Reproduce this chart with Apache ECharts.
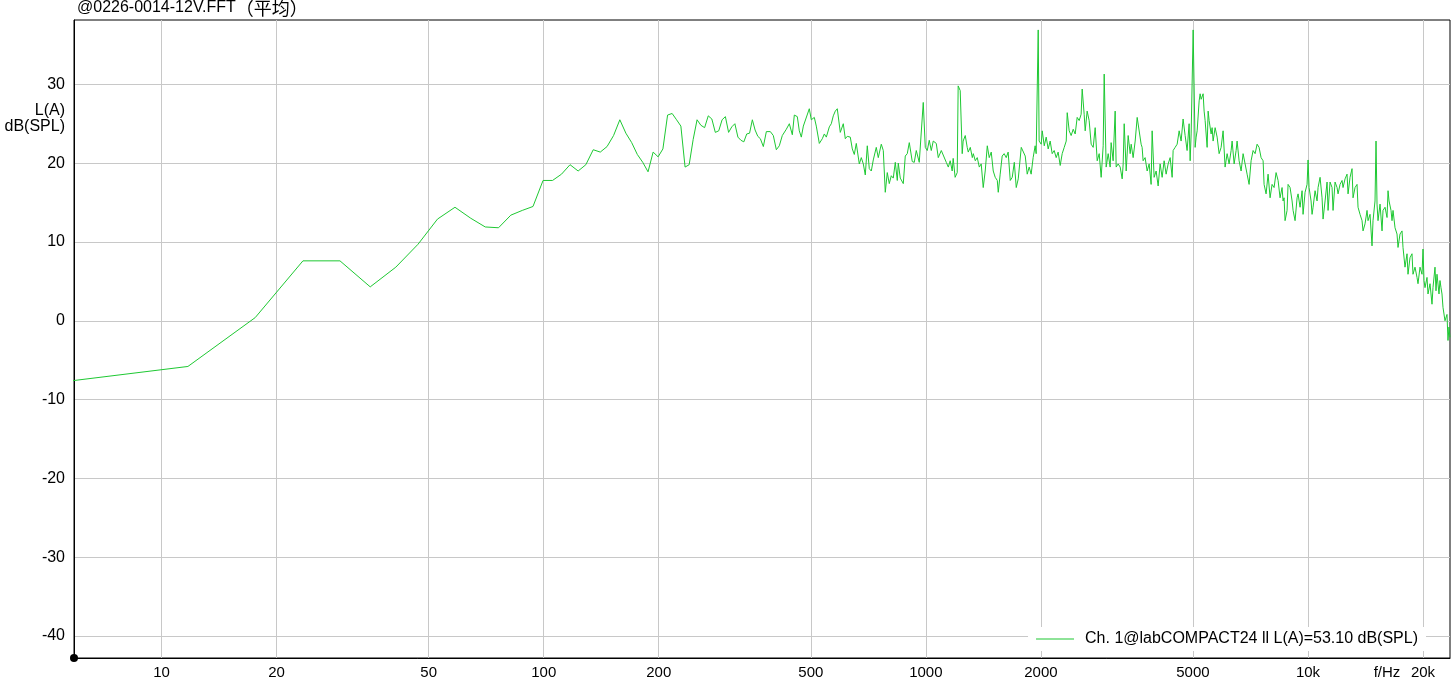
<!DOCTYPE html>
<html><head><meta charset="utf-8">
<script src="https://cdn.jsdelivr.net/npm/echarts@6/dist/echarts.min.js"></script>
<style>html,body{margin:0;padding:0;background:#fff}#c{width:1452px;height:692px}</style>
</head><body><div id="c"></div>
<script>
// ---- data (frequency in Hz, level in dB(SPL)) ----
const lowFreq = [5.86,11.72,17.58,23.44,29.30,35.16,41.02,46.88,52.73,58.59,64.45,70.31,76.17,82.03,87.89,93.75,99.61,105.47,111.33,117.19,123.05,128.91,134.77,140.63,146.48,152.34,158.20,164.06,169.92,175.78,181.64,187.50,193.36,199.22,205.08,210.94,216.80,222.66,228.52,234.38,240.23,246.09,251.95,257.81,263.67,269.53,275.39,281.25,287.11,292.97,298.83,304.69,310.55,316.41,322.27,328.13,333.98,339.84,345.70,351.56,357.42,363.28];
const lowLevel = [-7.6,-5.8,0.4,7.6,7.6,4.3,6.8,9.7,12.9,14.4,13.0,11.9,11.8,13.4,14.0,14.5,17.8,17.8,18.6,19.8,19.0,19.8,21.7,21.4,22.1,23.5,25.5,23.8,22.6,21.1,20.1,18.9,21.4,20.8,21.8,26.1,26.3,25.5,24.7,19.5,19.8,23.0,25.5,24.8,24.5,26.0,25.6,23.9,24.1,25.5,25.9,23.9,24.6,25.0,23.3,22.9,22.7,23.7,23.8,25.5,24.2,23.4];

const midFreq = [368.9,375.6,382.5,391.8,398.9,406.2,413.6,421.1,431.4,439.3,447.3,452.7,460.9,466.5,472.2,478.0,483.7,495.5,501.5,510.7,516.8,526.3,535.9,542.4,549.0,559.0,565.7,572.5,579.5,586.5,597.2,608.1,615.5,622.9,634.3,642.0,649.8,657.6,669.6,677.8,686.0,694.3,702.7,711.2,719.8,728.5,741.8,750.8,764.5,773.8,783.1,792.6,802.2,812.0,821.8,831.8,841.9,846.9,857.2,872.8,883.4,894.1,905.0,921.4,932.6,943.9,961.1,972.7,984.5,996.5,1008.5,1020.8,1033.2,1045.7,1064.8,1077.7,1097.6,1110.9,1131.1,1144.9,1158,1172,1179,1193,1208,1215,1230,1245,1252,1268,1283,1291,1307,1323,1331,1347,1363,1380,1396,1413,1430,1448,1465,1483,1501,1519,1538,1547,1565,1584,1603,1623,1642,1663,1683,1704,1724,1745,1777,1798,1820,1842,1864,1886,1909,1932,1944,1968,1979,2004,2016,2041,2065,2090,2115,2141,2167,2193,2219,2247,2274,2302,2330,2344,2372,2400,2430,2459,2489,2519,2549,2565,2596,2612,2643,2675,2708,2741,2774,2808,2842,2876,2911,2929,2964,3000];
const midLevel = [23.1,22.1,24.0,24.0,23.5,21.7,22.2,23.5,24.3,25.0,23.6,26.1,25.9,24.1,23.3,24.7,24.6,26.9,25.5,25.8,24.7,22.5,23.1,23.7,23.3,24.6,25.0,26.0,26.6,26.9,23.9,25.0,23.1,23.4,23.3,21.8,21.1,22.5,19.9,20.7,19.9,18.5,22.2,19.3,19.0,20.4,22.0,20.7,22.4,21.6,16.3,18.8,17.4,18.4,18.1,20.1,17.8,20.0,18.1,17.4,20.9,21.2,22.6,20.2,20.1,21.6,20.1,20.1,27.7,22.0,21.6,22.9,21.6,22.8,22.5,20.7,21.6,21.4,20.1,19.5,20.3,19.0,20.6,18.2,18.8,29.8,29.2,21.2,22.8,23.5,22.0,21.4,22.0,20.7,21.2,20.3,20.7,19.5,19.9,16.9,19.0,22.2,20.7,21.4,19.0,18.2,17.8,16.3,18.6,20.9,21.2,20.7,21.4,17.8,18.2,20.1,16.9,18.0,22.0,22.2,20.9,18.6,19.5,18.6,20.7,22.2,21.2,36.9,22.8,22.4,24.1,22.2,23.3,21.8,22.8,21.2,21.6,20.7,21.4,19.7,21.2,22.0,22.8,26.4,24.1,23.5,24.3,23.7,25.8,25.4,26.2,29.4,26.2,24.1,26.6,25.4,22.4,22.0,24.5,20.3,21.2,18.2,22.2,31.3,19.5,21.2];

const highFreq = [3036,3054,3091,3129,3148,3186,3225,3264,3284,3304,3344,3384,3425,3446,3487,3530,3573,3616,3659,3681,3703,3748,3794,3840,3886,3910,3957,4005,4054,4103,4153,4203,4254,4306,4358,4411,4437,4491,4546,4601,4656,4712,4770,4827,4886,4916,4946,5006,5066,5097,5128,5190,5221,5253,5316,5348,5381,5446,5479,5512,5579,5612,5646,5715,5784,5854,5925,5996,6069,6143,6217,6293,6331,6408,6485,6524,6603,6683,6764,6846,6929,7013,7098,7184,7271,7359,7448,7538,7630,7676,7769,7863,7958,8054,8152,8251,8351,8452,8554,8606,8658,8710,8816,8869,8977,9086,9141,9251,9364,9420,9534,9650,9708,9826,9945,10005,10065,10187,10249,10311,10436,10562,10626,10755,10885,10951,11084,11218,11286,11422,11560,11630,11771,11914,11986,12131,12278,12352,12502,12653,12730,12884,13040,13119,13278,13439,13520,13684,13850,13934,14102,14273,14359,14533,14709,14798,14977,15068,15159,15250,15436,15623,15717,15908,16101,16198,16297,16493,16593,16693,16895,17100,17203,17411,17622,17728,17943,18161,18270,18492,18716,18829,19057,19288,19405,19640,19878,19998,20119,20240,20486,20609,20859,21112,21239,21497,21627,21757,22021,22153,22287,22422,22557,22830,23107,23247,23387,23528];
const highLevel = [19.5,22.6,20.3,26.6,19.5,19.9,19.5,18.0,19.9,25.0,19.0,23.5,21.2,22.4,20.7,22.8,25.8,25.8,22.4,22.0,20.3,20.7,19.0,19.9,17.3,24.1,18.2,19.0,17.1,19.9,18.2,20.3,18.6,19.9,20.7,18.2,21.6,22.0,22.4,24.1,22.8,25.6,23.5,21.6,25.0,20.3,23.7,36.9,22.0,23.3,24.1,27.9,28.8,28.1,28.8,26.6,25.4,22.0,26.6,25.4,23.7,24.5,22.8,24.5,23.3,21.2,22.0,24.1,19.5,21.2,19.9,21.6,22.8,19.9,21.6,22.8,20.3,19.0,21.2,19.9,18.6,17.3,20.3,21.6,21.2,22.4,22.0,20.7,20.3,17.3,16.1,18.6,15.6,17.3,16.9,18.8,17.8,15.6,16.9,15.2,15.6,12.7,14.0,17.3,16.9,15.2,14.0,12.7,15.6,16.1,14.4,16.5,13.5,16.3,17.3,20.4,16.9,15.2,13.5,14.4,16.5,15.2,16.9,18.2,15.6,12.9,15.2,17.6,14.0,17.6,16.9,14.0,17.6,16.9,16.1,17.3,17.8,16.9,18.0,18.6,16.1,18.2,19.3,15.6,16.9,17.3,14.4,13.5,12.7,11.4,12.3,14.0,12.7,13.5,9.5,12.7,15.2,22.8,14.8,12.7,14.8,11.4,14.0,14.4,13.1,16.5,15.2,14.0,12.7,14.0,11.8,11.0,9.3,11.0,11.4,9.3,6.8,8.5,5.9,8.0,8.5,5.9,6.8,5.5,4.7,6.8,5.9,9.1,5.1,4.2,5.5,3.4,4.7,2.1,4.2,6.8,3.8,5.9,3.4,5.1,4.2,3.4,1.7,0.0,0.8,-2.5,-0.8,-2.1];

const xTicks = [10,20,50,100,200,500,1000,2000,5000,10000,20000];
const xUnitAt = 16100;
const yTicks = [-40,-30,-20,-10,0,10,20,30];
const seriesName = 'Ch. 1@labCOMPACT24 ll L(A)=53.10 dB(SPL)';
const titleMain = '@0226-0014-12V.FFT';
const titleCJK = '（平均）';

const freqs = lowFreq.concat(midFreq, highFreq);
const levels = lowLevel.concat(midLevel, highLevel);
const seriesData = freqs.map((f, i) => [f, levels[i]]);

const FONT = '"Liberation Sans", Arial, "Noto Sans CJK SC", sans-serif';
const CJKFONT = '"Noto Sans CJK SC", "Liberation Sans", sans-serif';
const chart = echarts.init(document.getElementById('c'), null, {renderer: 'canvas'});
chart.setOption({
  animation: false,
  backgroundColor: '#fff',
  textStyle: {fontFamily: FONT},
  grid: {left: 74, right: 2, top: 20, bottom: 34, show: true, borderColor: '#000', borderWidth: 1},
  graphic: [
    {type: 'text', left: 77, top: -1, style: {
      text: '{a|' + titleMain + '}{b|' + titleCJK + '}', fill: '#000',
      rich: {a: {fontSize: 16, fontFamily: FONT, fill: '#000'}, b: {fontSize: 18, fontFamily: CJKFONT, fill: '#000'}}
    }},
    {type: 'text', right: 1387, top: 103, style: {text: 'L(A)', fontSize: 16, fontFamily: FONT, fill: '#000'}},
    {type: 'text', right: 1387, top: 119, style: {text: 'dB(SPL)', fontSize: 16, fontFamily: FONT, fill: '#000'}}
  ],
  legend: {
    right: 26, top: 627, backgroundColor: '#fff', padding: [4, 8, 4, 8],
    itemWidth: 38, itemHeight: 10,
    textStyle: {fontSize: 16, color: '#000', fontFamily: FONT, padding: [0, 0, 0, 6]},
    data: [{name: seriesName, icon: 'path://M0,5L38,5L38,6L0,6Z'}]
  },
  xAxis: {
    type: 'log', logBase: 10, min: 5.9, max: 23530,
    axisLine: {show: true, onZero: false, lineStyle: {color: '#000', width: 1}, symbol: ['circle', 'none'], symbolSize: [8, 8]},
    axisTick: {show: false, customValues: xTicks},
    axisLabel: {
      customValues: xTicks.concat([xUnitAt]), color: '#000', fontSize: 15, fontFamily: FONT, margin: 7,
      formatter: v => (Math.abs(v - xUnitAt) < 1 ? 'f/Hz' : (v >= 10000 ? (v / 1000) + 'k' : String(v)))
    },
    splitLine: {show: true, lineStyle: {color: '#c8c8c8', width: 1}},
    minorTick: {show: false}, minorSplitLine: {show: false}
  },
  yAxis: {
    type: 'value', min: -42.79, max: 38.16,
    axisLine: {show: true, onZero: false, lineStyle: {color: '#000', width: 1}},
    axisTick: {show: false, customValues: yTicks},
    axisLabel: {customValues: yTicks, color: '#000', fontSize: 16, fontFamily: FONT, margin: 9},
    splitLine: {show: true, lineStyle: {color: '#c8c8c8', width: 1}}
  },
  series: [{
    name: seriesName, type: 'line', data: seriesData, symbol: 'none', showSymbol: false,
    lineStyle: {color: '#1ec832', width: 1}, itemStyle: {color: '#1ec832'}, clip: true
  }]
});
</script></body></html>
